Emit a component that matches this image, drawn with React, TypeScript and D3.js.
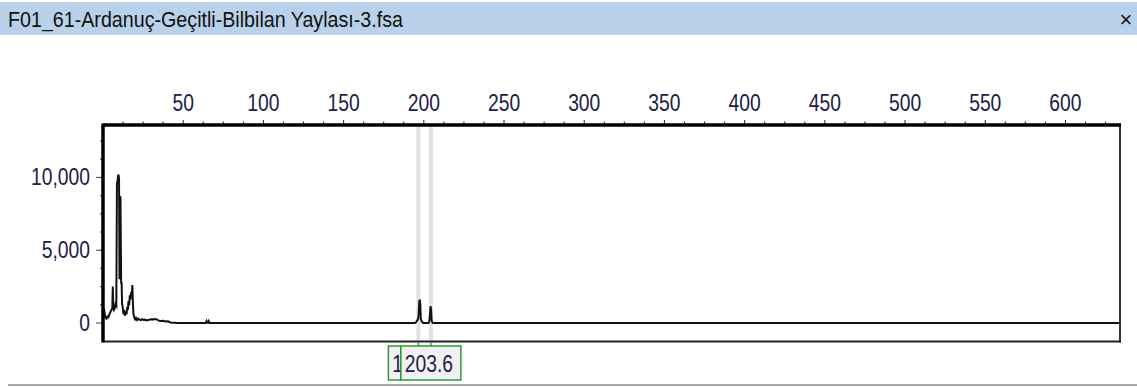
import * as d3 from 'd3'

// trace: fragment size (bp) vs. signal (RFU)
const sizes = [
  0.5, 1.0, 1.6, 2.2, 2.8, 3.4, 4.0, 4.6, 5.2, 5.8, 6.1, 6.4, 6.8, 7.3, 7.8, 8.3,
  8.7, 9.0, 9.4, 9.7, 10.0, 10.3, 10.6, 10.9, 11.3, 11.6, 11.9, 12.3, 12.7, 13.2,
  13.7, 14.2, 14.7, 15.1, 15.5, 15.9, 16.3, 16.7, 17.1, 17.5, 17.9, 18.3, 18.6,
  19.0, 19.5, 20.0, 20.6, 21.3, 22.0, 22.8, 23.6, 24.4, 25.3, 26.2, 27.2, 28.2,
  29.3, 30.4, 31.5, 32.6, 33.8, 35.0, 36.3, 37.6, 39.0, 40.5, 42.0, 43.5, 45.0,
  46.5, 64.0, 64.5, 64.9, 65.4, 65.9, 66.3, 194.6, 195.3, 195.9, 196.4, 196.8,
  197.2, 197.5, 197.8, 198.1, 198.5, 199.0, 199.6, 203.0, 203.5, 203.9, 204.2,
  204.5, 204.9, 205.5, 634,
]
const rfu = [
  1000, 700, 350, 300, 450, 400, 600, 750, 900, 1000, 2500, 1100, 900, 1000, 1300, 1200,
  9600, 9700, 10100, 10200, 9900, 3000, 8700, 8600, 2700, 2800, 1300, 1100, 600, 900,
  500, 800, 600, 1100, 900, 1500, 1200, 1900, 1600, 2100, 1800, 2600, 1500,
  600, 400, 250, 350, 200, 300, 230, 200, 260, 210, 230, 180, 200,
  240, 260, 250, 270, 230, 150, 140, 160, 110, 120, 40, 20, 10,
  0, 0, 130, 10, 10, 130, 0, 0, 80, 180, 260, 600,
  1500, 1600, 1300, 300, 150, 60, 0, 0, 150, 700, 1150,
  950, 150, 0, 0,
]

const xTicks = [50, 100, 150, 200, 250, 300, 350, 400, 450, 500, 550, 600]
const yTicks = [0, 5000, 10000]

// allele bins and their call labels
const binSizes = [196.6, 204.4]
const binLabels = ['196.3', '203.6']

const title = 'F01_61-Ardanuç-Geçitli-Bilbilan Yaylası-3.fsa'

const W = 1137
const H = 387
const FONT = "'Liberation Sans', Arial, sans-serif"
const TEXT = '#202048'

// Arial Narrow look-alike: squeeze Liberation Sans horizontally
const NText = ({ x, y, anchor = 'start', fill = TEXT, size = 23, sx = 0.84, children }) => (
  <text
    transform={`translate(${x},${y}) scale(${sx},1)`}
    textAnchor={anchor}
    fontFamily={FONT}
    fontSize={size}
    fill={fill}
  >
    {children}
  </text>
)

export default function App() {
  const left = 103
  const right = 1120
  const top = 125
  const bottom = 341.5

  const x = d3.scaleLinear().domain([0, 634]).range([left, right])
  const y = d3.scaleLinear().domain([-1270, 13600]).range([bottom, top])

  const pts: [number, number][] = sizes.map((s, i) => [s, rfu[i]])
  const line = d3
    .line<[number, number]>()
    .x((d) => x(d[0]))
    .y((d) => y(d[1]))

  const xMinor = d3.range(12.5, 634, 12.5)
  const yMinor = d3.range(1250, 13600, 1250)

  // boxes are 60px wide and centred on their bin; a later box hides the earlier one
  const boxW = 60
  const labels = binSizes.map((b, i) => {
    const bx = x(b) - boxW / 2
    const next = i < binSizes.length - 1 ? x(binSizes[i + 1]) - boxW / 2 : bx + boxW
    const visible = Math.min(boxW, next - bx)
    const chars = visible < boxW ? Math.max(1, Math.floor(visible / 10)) : binLabels[i].length
    return { b, bx, visible, text: binLabels[i].slice(0, chars), truncated: visible < boxW }
  })

  return (
    <svg
      width={W}
      height={H}
      style={{ position: 'absolute', left: 0, top: 0, display: 'block', background: '#fff' }}
    >
      {/* title bar */}
      <rect x={0} y={2} width={W} height={33} fill="#b9d1ea" />
      <text x={8} y={27} fontFamily={FONT} fontSize={22} fill="#111" textLength={395} lengthAdjust="spacingAndGlyphs">
        {title}
      </text>
      <text x={1126} y={27} fontFamily={FONT} fontSize={22} textAnchor="middle" fill="#111">
        ×
      </text>

      {/* allele bins */}
      {binSizes.map((b, i) => (
        <rect key={'bin' + i} x={x(b) - 2} y={top} width={4} height={bottom - top} fill="#e2dfe6" />
      ))}

      {/* top axis */}
      {xMinor.map((v) => (
        <line key={'xm' + v} x1={x(v)} x2={x(v)} y1={v % 50 === 0 ? 120 : 121.5} y2={top} stroke="#222" strokeWidth={1} />
      ))}
      {xTicks.map((v) => (
        <NText key={'xt' + v} x={x(v)} y={111} anchor="middle">
          {v}
        </NText>
      ))}

      {/* left axis */}
      {yMinor.map((v) => (
        <line key={'ym' + v} x1={left - 3} x2={left} y1={y(v)} y2={y(v)} stroke="#444" strokeWidth={1} />
      ))}
      {yTicks.map((v) => (
        <g key={'yt' + v}>
          <line x1={left - 7} x2={left} y1={y(v)} y2={y(v)} stroke="#444" strokeWidth={1} />
          <NText x={90} y={y(v) + 8} anchor="end">
            {d3.format(',')(v)}
          </NText>
        </g>
      ))}

      {/* trace */}
      <path d={line(pts) || ''} fill="none" stroke="#111" strokeWidth={2} strokeLinejoin="miter" />

      {/* frame */}
      <line x1={right} x2={right} y1={top} y2={bottom + 1} stroke="#333" strokeWidth={2} />
      <line x1={left} x2={right + 1} y1={bottom} y2={bottom} stroke="#222" strokeWidth={2} />
      <line x1={left} x2={right + 1} y1={top} y2={top} stroke="#000" strokeWidth={3.5} />
      <line x1={left} x2={left} y1={top - 1.5} y2={bottom + 1} stroke="#000" strokeWidth={3.5} />

      {/* allele call labels */}
      {labels.map((l, i) => (
        <g key={'lab' + i}>
          <line x1={x(l.b)} x2={x(l.b)} y1={bottom + 1} y2={346} stroke="#2e9b2e" strokeWidth={1.5} />
          <rect x={l.bx} y={346} width={l.visible} height={34} fill="#f1f0f4" stroke="#2e9b2e" strokeWidth={1.5} />
          <NText x={l.truncated ? l.bx + 4 : x(l.b) - 2} y={372} anchor={l.truncated ? 'start' : 'middle'}>
            {l.text}
          </NText>
        </g>
      ))}

      {/* bottom separator */}
      <rect x={8} y={384} width={W - 8} height={2} fill="#a8a8a8" />
    </svg>
  )
}
